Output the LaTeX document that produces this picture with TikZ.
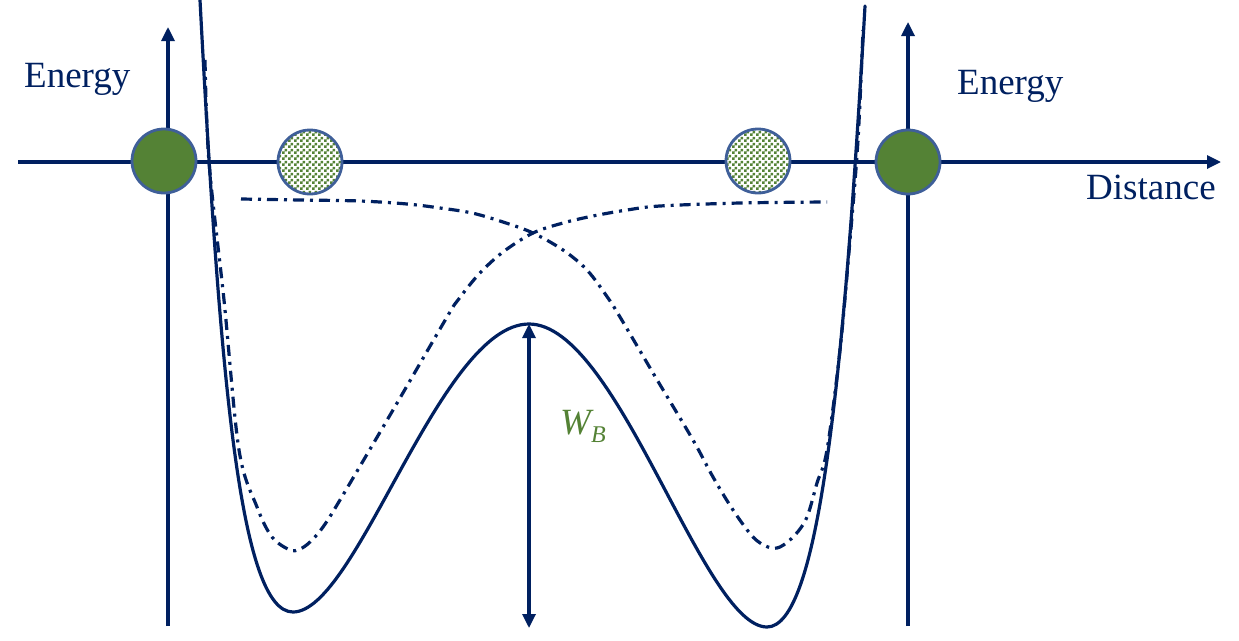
\documentclass[tikz,border=0pt]{standalone}
\usepackage{fontspec}
\setmainfont{Liberation Serif}
\usetikzlibrary{arrows.meta,patterns}
\definecolor{navy}{HTML}{002060}
\definecolor{ballgreen}{HTML}{548235}
\definecolor{ballrim}{HTML}{3F5F99}
\pgfdeclarepatternformonly{finechecker}{\pgfpointorigin}{\pgfqpoint{6pt}{6pt}}{\pgfqpoint{6pt}{6pt}}{%
  \pgfpathrectangle{\pgfpointorigin}{\pgfqpoint{3pt}{3pt}}%
  \pgfpathrectangle{\pgfqpoint{3pt}{3pt}}{\pgfqpoint{3pt}{3pt}}%
  \pgfusepath{fill}}
\tikzset{
  axisline/.style={draw=navy, line width=3.2pt, -{Triangle[length=14pt,width=13pt]}},
  wellcurve/.style={draw=navy, line width=3.2pt, line cap=round},
  dashdotcurve/.style={draw=navy, line width=3.2pt, dash pattern=on 11pt off 6pt on 3pt off 6pt},
  solidball/.style={circle, draw=ballrim, line width=2.8pt, fill=ballgreen, minimum size=64pt, inner sep=0pt},
  checkball/.style={circle, draw=ballrim, line width=2.8pt, preaction={fill=white}, pattern=finechecker, pattern color=ballgreen, minimum size=64pt, inner sep=0pt},
  label/.style={text=navy, font=\fontsize{37}{40}\selectfont, anchor=base west, inner sep=0pt},
  barrier/.style={draw=navy, line width=3.2pt, {Triangle[length=14pt,width=13pt]}-{Triangle[length=14pt,width=13pt]}}
}
\begin{document}
\begin{tikzpicture}[x=1pt,y=-1pt]
\useasboundingbox (0,0) rectangle (1239,640);
% axes
\coordinate (hl) at (18,162);
\coordinate (hr) at (1221,162);
\coordinate (lb) at (168,626);
\coordinate (lt) at (168,27);
\coordinate (rb) at (908,626);
\coordinate (rt) at (908,22);
\draw[axisline] (hl) -- (hr);
\draw[axisline] (lb) -- (lt);
\draw[axisline] (rb) -- (rt);
% solid double well
\coordinate (wallLtop) at (200,0);
\coordinate (minL) at (293,612);
\coordinate (maxC) at (529,324);
\coordinate (minR) at (767,627);
\coordinate (wallRtop) at (865,6);
\draw[wellcurve] (wallLtop) .. controls (220,380) and (240,612) .. (minL)
  .. controls (357,612) and (440,324) .. (maxC)
  .. controls (618,324) and (703,627) .. (minR)
  .. controls (818,627) and (843,390) .. (wallRtop);
% dash-dot curve B (left well, flat to the right)
\draw[dashdotcurve] plot[smooth, tension=0.55] coordinates {
 (205,60) (209,162) (224,300) (239,450) (257,507) (272,537) (290,550) (300,549)
 (310,542) (323,527) (340,500) (393,410) (447,317) (458,300) (479,274) (503,252)
 (533,233) (563,223) (593,216) (627,210) (660,206) (740,203) (827,202)};
% dash-dot curve A (flat on the left, right well)
\draw[dashdotcurve] plot[smooth, tension=0.55] coordinates {
 (241,199) (300,200) (360,201) (407,204) (440,208) (472,213) (503,222) (533,233)
 (563,250) (587,270) (608,298) (620,317) (656,378) (693,440) (713,477) (733,510)
 (753,537) (768,547) (780,547) (795,535) (807,517) (817,483) (827,450) (840,350)
 (850,240) (858,140) (863,30)};
% balls
\node[solidball] (ballL) at (164,161) {};
\node[checkball] (ballLc) at (310,162) {};
\node[checkball] (ballRc) at (758,161) {};
\node[solidball] (ballR) at (908,162) {};
% barrier height arrow
\coordinate (wtop) at (529,324);
\coordinate (wbot) at (529,628);
\draw[barrier] (wtop) -- (wbot);
% labels
\node[label] (energyL) at (24,87) {Energy};
\node[label] (energyR) at (957,94) {Energy};
\node[label] (dist) at (1086,199) {Distance};
\node[anchor=base west, inner sep=0pt, text=ballgreen, font=\fontsize{37}{40}\selectfont\itshape] (wb) at (560,434) {W\raisebox{-8pt}{\fontsize{24}{24}\selectfont B}};
\end{tikzpicture}
\end{document}
